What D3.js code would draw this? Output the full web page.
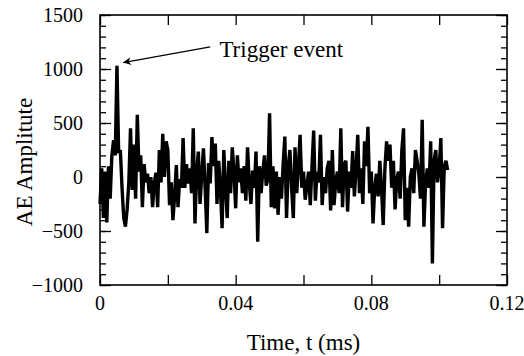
<!DOCTYPE html>
<html lang="en">
<head>
<meta charset="UTF-8">
<title>AE signal</title>
<style>
    body{ margin:0; background:#fff; }
    text{ font-family: "Liberation Serif", "DejaVu Serif", serif; fill:#000; }
</style>
</head>
<body>
<svg width="524" height="356"></svg>
<script src="https://d3js.org/d3.v7.min.js"></script>
<script>
// sample spacing in ms
var dt = 0.0005;
// AE amplitude, one value every dt
var amplitude = [
    -250, 80, -380, 50, -420, 100, -200, 200, 340, 200,
    1030, 220, 250, -100, -380, -460, -300, -50, 450, -120,
    300, -200, 575, 50, 200, -280, 120, -50, 30, -150,
    0, -280, -60, 40, -280, 250, -50, 400, 0, 330,
    250, -260, -50, -400, -180, 110, -280, -20, -100, 360,
    -100, 120, -60, 80, -150, 450, -430, 50, 235, -250,
    20, 265, -100, -520, 130, -60, 370, 100, 310, -250,
    150, -100, -475, 250, -80, -380, 150, -150, 275, 50,
    -290, 200, -50, 80, -150, 100, -220, 275, -50, -250,
    60, -100, 235, -600, 100, -150, 50, 200, -80, -20,
    590, -280, 100, -290, 50, -350, 0, -200, 120, 375,
    -380, 100, 250, -100, -380, 275, -150, 100, 390, -100,
    50, -210, -80, 50, -260, 100, 430, -220, 50, -50,
    390, -260, 0, -150, 80, 150, -310, 250, -260, -50,
    50, -150, 450, -280, 120, 150, -320, 50, -100, 240,
    -180, 80, 390, -150, 80, -250, 330, 100, 465, -150,
    50, -430, -100, 30, -180, 150, -100, -445, 80, 330,
    150, 300, -100, 150, -300, -20, 50, -200, 250, 450,
    -400, -100, -460, 0, 80, -150, 250, 150, 30, -200,
    530, -460, -50, 80, -100, 330, -800, 150, 250, -50,
    80, 360, -475, 100, 150, 65
];
var xTicks = [0, 0.04, 0.08, 0.12];
var yTicks = [-1000, -500, 0, 500, 1000, 1500];

var svg = d3.select("svg"),
    margin = {top: 15, right: 17, bottom: 71, left: 100},
    width = svg.attr("width") - margin.left - margin.right,
    height = svg.attr("height") - margin.top - margin.bottom,
    g = svg.append("g").attr("transform", "translate(" + margin.left + "," + margin.top + ")");

var x = d3.scaleLinear().domain([0, 0.12]).range([0, width]);
var y = d3.scaleLinear().domain([-1000, 1500]).range([height, 0]);

var data = amplitude.map(function(v, i){ return {t: i * dt, v: v}; });

// inward ticks on all four sides
function ticks(axis, vals, size){
    return axis.tickValues(vals).tickSize(size).tickFormat("");
}
var xMajor = d3.range(0, 0.1201, 0.02);
var yMajor = d3.range(-1000, 1501, 500);
var yMinor = d3.range(-1000, 1501, 100);

g.append("g").attr("transform", "translate(0," + height + ")").call(ticks(d3.axisTop(x), xMajor, 10));
g.append("g").call(ticks(d3.axisBottom(x), xMajor, 10));
g.append("g").call(ticks(d3.axisRight(y), yMinor, 6));
g.append("g").call(ticks(d3.axisRight(y), yMajor, 11));
g.append("g").attr("transform", "translate(" + width + ",0)").call(ticks(d3.axisLeft(y), yMinor, 6));
g.append("g").attr("transform", "translate(" + width + ",0)").call(ticks(d3.axisLeft(y), yMajor, 11));
g.selectAll(".domain").remove();
g.selectAll(".tick line").attr("stroke", "#000").attr("stroke-width", 1.3);

// signal
g.append("path")
    .datum(data)
    .attr("fill", "none")
    .attr("stroke", "#000")
    .attr("stroke-width", 3.4)
    .attr("stroke-linejoin", "miter")
    .attr("stroke-miterlimit", 3)
    .attr("d", d3.line().x(function(d){ return x(d.t); }).y(function(d){ return y(d.v); }));

// frame
g.append("rect")
    .attr("width", width).attr("height", height)
    .attr("fill", "none").attr("stroke", "#000").attr("stroke-width", 1.6);

// tick labels
g.selectAll(".xl").data(xTicks).enter().append("text")
    .attr("x", function(d){ return x(d); })
    .attr("y", height + 25)
    .attr("text-anchor", "middle")
    .style("font-size", "20px")
    .text(function(d){ return d === 0 ? "0" : d3.format(".2f")(d); });

g.selectAll(".yl").data(yTicks).enter().append("text")
    .attr("x", -17)
    .attr("y", function(d){ return y(d); })
    .attr("dy", "0.35em")
    .attr("text-anchor", "end")
    .style("font-size", "20px")
    .text(function(d){ return d < 0 ? "\u2212" + Math.abs(d) : d; });

// axis titles
g.append("text")
    .attr("x", width / 2)
    .attr("y", height + 65)
    .attr("text-anchor", "middle")
    .style("font-size", "23px")
    .text("Time, t (ms)");

g.append("text")
    .attr("transform", "rotate(-90)")
    .attr("x", -147)
    .attr("y", -68)
    .attr("text-anchor", "middle")
    .style("font-size", "23px")
    .text("AE Amplitute");

// annotation
var defs = svg.append("defs");
defs.append("marker")
    .attr("id", "head")
    .attr("viewBox", "0 0 10 10")
    .attr("refX", 10).attr("refY", 5)
    .attr("markerWidth", 12).attr("markerHeight", 8)
    .attr("markerUnits", "userSpaceOnUse")
    .attr("orient", "auto")
    .append("path").attr("d", "M0,0 L10,5 L0,10 L3,5 z").attr("fill", "#000");

g.append("line")
    .attr("x1", x(0.0325)).attr("y1", y(1205))
    .attr("x2", x(0.0068)).attr("y2", y(1060))
    .attr("stroke", "#000").attr("stroke-width", 1.3)
    .attr("marker-end", "url(#head)");

g.append("text")
    .attr("x", x(0.0352))
    .attr("y", y(1110))
    .style("font-size", "23px")
    .text("Trigger event");
</script>
</body>
</html>
